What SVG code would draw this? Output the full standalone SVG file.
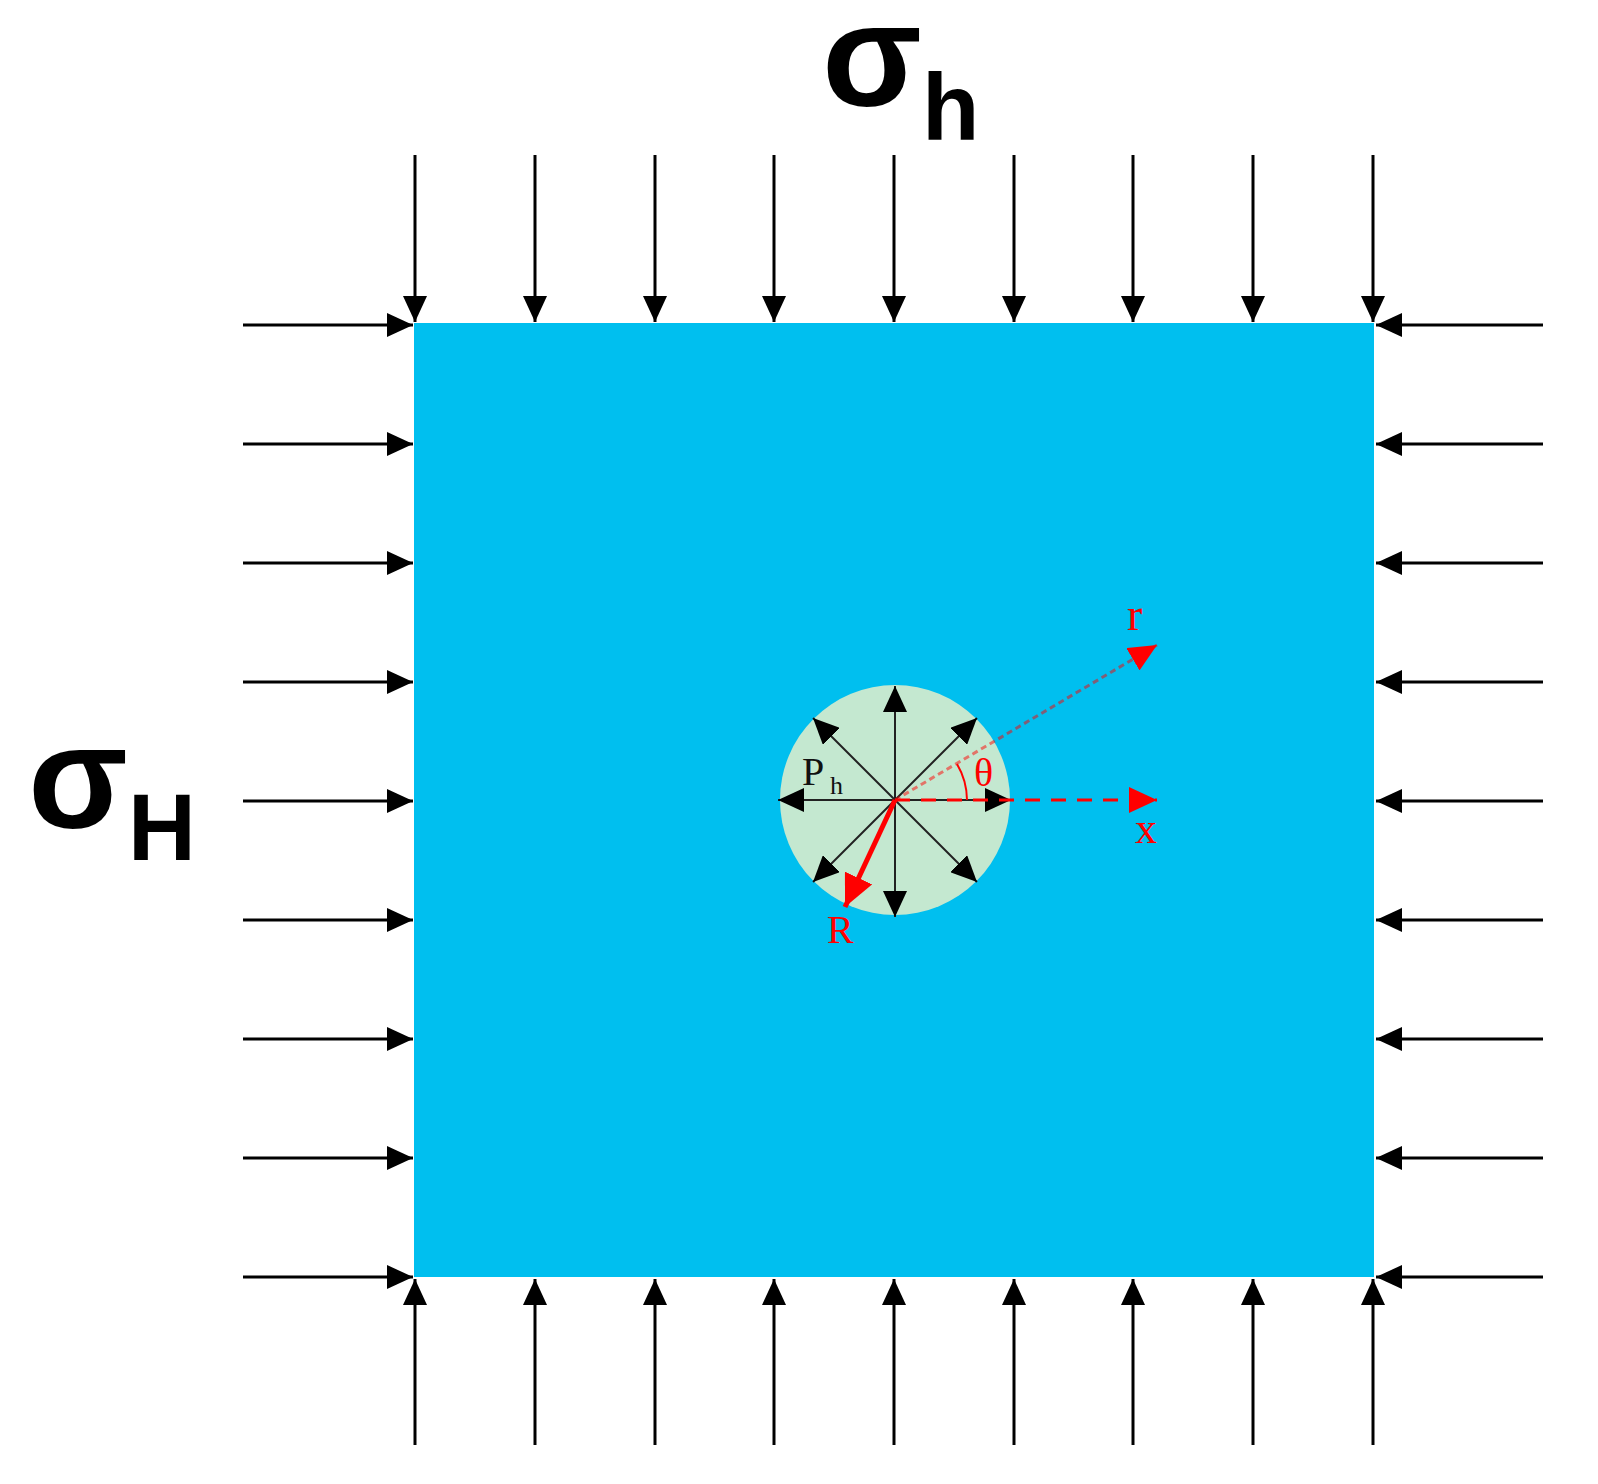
<svg xmlns="http://www.w3.org/2000/svg" width="1598" height="1484" viewBox="0 0 1598 1484">
<style>
.load{stroke:#000;stroke-width:3;fill:none;marker-end:url(#ah)}
.inner{stroke:#222;stroke-width:2;fill:none;marker-start:url(#ah);marker-end:url(#ah)}
.lbl{font-family:"Liberation Sans",Arial,sans-serif;fill:#000}
.red{font-family:"Liberation Serif","Times New Roman",serif;fill:#ff0000}
</style>
<defs>
<marker id="ah" markerUnits="userSpaceOnUse" markerWidth="26" markerHeight="24" refX="26" refY="12" orient="auto-start-reverse"><path d="M0,0 L26,12 L0,24 z" fill="#000"/></marker>
<marker id="rh" markerUnits="userSpaceOnUse" markerWidth="28" markerHeight="26" refX="28" refY="13" orient="auto"><path d="M0,0 L28,13 L0,26 z" fill="#ff0000"/></marker>
<marker id="rh2" markerUnits="userSpaceOnUse" markerWidth="32" markerHeight="30" refX="32" refY="15" orient="auto"><path d="M0,0 L32,15 L0,30 z" fill="#ff0000"/></marker>
</defs>
<rect width="1598" height="1484" fill="#fff"/>
<g id="plate"><rect x="414" y="323" width="960" height="954" fill="#00BFEF"/></g>
<g id="wellbore"><circle cx="895" cy="800" r="115" fill="#C4E8D0"/></g>
<g id="connectors">
<line class="load" x1="415" y1="155" x2="415" y2="322"/>
<line class="load" x1="535" y1="155" x2="535" y2="322"/>
<line class="load" x1="655" y1="155" x2="655" y2="322"/>
<line class="load" x1="774" y1="155" x2="774" y2="322"/>
<line class="load" x1="894" y1="155" x2="894" y2="322"/>
<line class="load" x1="1014" y1="155" x2="1014" y2="322"/>
<line class="load" x1="1133" y1="155" x2="1133" y2="322"/>
<line class="load" x1="1253" y1="155" x2="1253" y2="322"/>
<line class="load" x1="1373" y1="155" x2="1373" y2="322"/>
<line class="load" x1="415" y1="1445" x2="415" y2="1279"/>
<line class="load" x1="535" y1="1445" x2="535" y2="1279"/>
<line class="load" x1="655" y1="1445" x2="655" y2="1279"/>
<line class="load" x1="774" y1="1445" x2="774" y2="1279"/>
<line class="load" x1="894" y1="1445" x2="894" y2="1279"/>
<line class="load" x1="1014" y1="1445" x2="1014" y2="1279"/>
<line class="load" x1="1133" y1="1445" x2="1133" y2="1279"/>
<line class="load" x1="1253" y1="1445" x2="1253" y2="1279"/>
<line class="load" x1="1373" y1="1445" x2="1373" y2="1279"/>
<line class="load" x1="243" y1="325" x2="413" y2="325"/>
<line class="load" x1="243" y1="444" x2="413" y2="444"/>
<line class="load" x1="243" y1="563" x2="413" y2="563"/>
<line class="load" x1="243" y1="682" x2="413" y2="682"/>
<line class="load" x1="243" y1="801" x2="413" y2="801"/>
<line class="load" x1="243" y1="920" x2="413" y2="920"/>
<line class="load" x1="243" y1="1039" x2="413" y2="1039"/>
<line class="load" x1="243" y1="1158" x2="413" y2="1158"/>
<line class="load" x1="243" y1="1277" x2="413" y2="1277"/>
<line class="load" x1="1543" y1="325" x2="1376" y2="325"/>
<line class="load" x1="1543" y1="444" x2="1376" y2="444"/>
<line class="load" x1="1543" y1="563" x2="1376" y2="563"/>
<line class="load" x1="1543" y1="682" x2="1376" y2="682"/>
<line class="load" x1="1543" y1="801" x2="1376" y2="801"/>
<line class="load" x1="1543" y1="920" x2="1376" y2="920"/>
<line class="load" x1="1543" y1="1039" x2="1376" y2="1039"/>
<line class="load" x1="1543" y1="1158" x2="1376" y2="1158"/>
<line class="load" x1="1543" y1="1277" x2="1376" y2="1277"/>
<line class="inner" x1="895" y1="917" x2="895" y2="686"/>
<line class="inner" x1="778" y1="800" x2="1011" y2="800"/>
<line class="inner" x1="813" y1="882" x2="977" y2="718"/>
<line class="inner" x1="977" y1="882" x2="813" y2="718"/>
<line x1="895" y1="800" x2="1157" y2="645" stroke="#ff0000" stroke-opacity="0.5" stroke-width="3" stroke-dasharray="6,4" marker-end="url(#rh)"/>
<line x1="895" y1="800" x2="1157" y2="800" stroke="#ff0000" stroke-width="3" stroke-dasharray="15,11" marker-end="url(#rh)"/>
<line x1="895" y1="800" x2="845" y2="907" stroke="#ff0000" stroke-width="5" marker-end="url(#rh2)"/>
<path d="M967,800 A72,72 0 0 0 957,764" stroke="#ff0000" stroke-width="2" fill="none"/>
</g>
<g id="labels">
<text class="lbl" x="822" y="106" font-size="146" font-weight="bold">σ</text>
<text class="lbl" x="922" y="140" font-size="94" font-weight="bold">h</text>
<text class="lbl" x="28" y="828" font-size="146" font-weight="bold">σ</text>
<text class="lbl" x="128" y="860" font-size="94" font-weight="bold">H</text>
<text class="red" x="1127" y="630" font-size="46">r</text>
<text class="red" x="974" y="786" font-size="40">θ</text>
<text class="red" x="1135" y="843" font-size="44">x</text>
<text class="red" x="827" y="943" font-size="40">R</text>
<text x="802" y="785" font-size="40" font-family="Liberation Serif,'Times New Roman',serif" fill="#111">P</text>
<text x="830" y="794" font-size="26" font-family="Liberation Serif,'Times New Roman',serif" fill="#111">h</text>
</g>
</svg>
